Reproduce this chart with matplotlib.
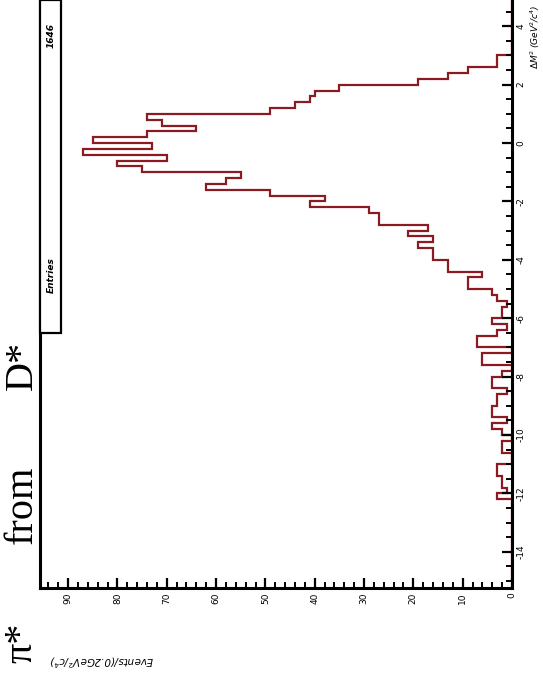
import numpy as np
import matplotlib
matplotlib.use("Agg")
import matplotlib.pyplot as plt
from matplotlib.ticker import MultipleLocator
from matplotlib.patches import Rectangle

# ---- data ----
bin_low = -15.0
bin_width = 0.2
counts = [0, 0, 0, 0, 0, 0, 0, 0, 0, 0, 0, 0, 0, 0,
          3, 1, 2, 2, 3, 3, 0, 0, 2, 2,
          0, 2, 4, 1, 4, 4, 3, 3, 1, 4,
          4, 2, 0, 6, 6, 0, 7, 7, 3, 1,
          4, 2, 2, 1, 3, 4, 9, 9, 6, 13,
          13, 16, 16, 19, 16, 21, 17, 27, 27, 29,
          41, 38, 49, 62, 58, 55, 75, 80, 70, 87,
          73, 85, 74, 64, 71, 74, 49, 44, 41, 40,
          35, 19, 13, 9, 3, 3,
          0, 0, 0, 0, 0, 0, 0, 0, 0, 0]
count_ticks = [0, 10, 20, 30, 40, 50, 60, 70, 80, 90]
dm2_ticks = [-14, -12, -10, -8, -6, -4, -2, 0, 2, 4]
title_parts = ["π*", "from", "D*"]
entries_label = "Entries"
entries_value = "1646"

edges = bin_low + bin_width * np.arange(len(counts) + 1)

W, H = 543, 685
fig = plt.figure(figsize=(W / 100, H / 100), dpi=100)
fig.patch.set_facecolor("white")

ax = fig.add_axes([40 / W, 1 - 588 / H, 472 / W, 588 / H])
ax.stairs(counts, edges, orientation="horizontal", color="#8b1a22", lw=1.6)

ax.set_xlim(95.7, 0)
ax.set_ylim(-15.24, 4.9)

ax.yaxis.tick_right()
ax.set_yticks(dm2_ticks)
ax.set_yticklabels([str(t) for t in dm2_ticks], rotation=90, va="center")
ax.yaxis.set_minor_locator(MultipleLocator(0.5))
ax.set_xticks(count_ticks)
ax.set_xticklabels([str(t) for t in count_ticks], rotation=90)
ax.xaxis.set_minor_locator(MultipleLocator(2))

ax.tick_params(axis="both", which="major", direction="in", length=7, width=1.6,
               labelsize=6.5, colors="black", pad=3)
ax.tick_params(axis="both", which="minor", direction="in", length=4, width=1.4)
ax.tick_params(axis="y", which="both", left=False, right=True)
ax.tick_params(axis="x", which="both", top=False, bottom=True)

for side in ["left", "bottom", "right"]:
    ax.spines[side].set_linewidth(2.2)
ax.spines["top"].set_visible(False)

# stats box
fig.add_artist(Rectangle((40 / W, 1 - 333 / H), 21 / W, 333 / H,
                         transform=fig.transFigure, facecolor="white",
                         edgecolor="black", lw=1.6, zorder=5))
fig.text(51 / W, 1 - 275 / H, entries_label, rotation=90, ha="center", va="center",
         fontsize=6.5, style="italic", fontweight="bold", zorder=6)
fig.text(51 / W, 1 - 35 / H, entries_value, rotation=90, ha="center", va="center",
         fontsize=6.5, style="italic", fontweight="bold", zorder=6)

# title pieces (serif, rotated)
serif = ["Liberation Serif", "DejaVu Serif"]
title_pos = [643, 505, 365]
for txt, yp in zip(title_parts, title_pos):
    fig.text(22 / W, 1 - yp / H, txt, rotation=90, ha="center", va="center",
             fontsize=29, family=serif)

# axis titles
fig.text(535 / W, 1 - 4 / H, r"$\Delta$M$^2$ (GeV$^2$/c$^4$)", rotation=90,
         ha="center", va="top", fontsize=6.5, style="italic")
fig.text(102 / W, 1 - 660 / H, r"Events/(0.2GeV$^2$/c$^4$)", rotation=180,
         ha="center", va="center", fontsize=7.5, style="italic")

fig.savefig("out.png", dpi=100)
